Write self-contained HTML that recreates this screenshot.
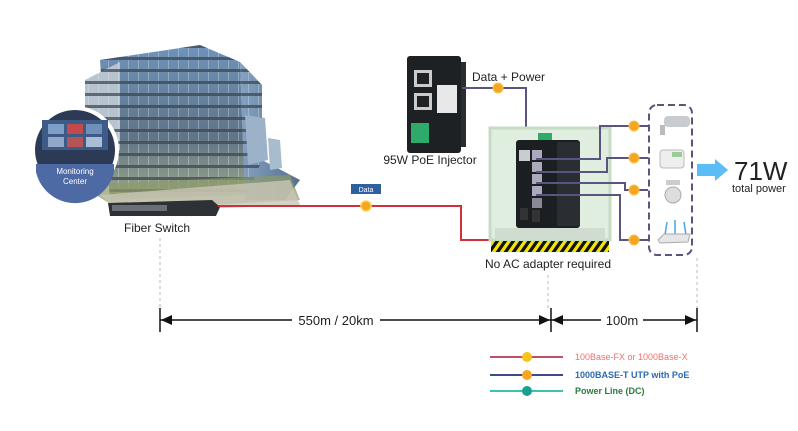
<!DOCTYPE html>
<html><head><meta charset="utf-8"><style>
html,body{margin:0;padding:0;background:#fff;}
svg{display:block;font-family:"Liberation Sans",Arial,sans-serif;}
</style></head><body>
<svg width="798" height="431" viewBox="0 0 798 431" xmlns="http://www.w3.org/2000/svg">
<defs>
<linearGradient id="bld" x1="0" y1="0" x2="0" y2="1">
<stop offset="0" stop-color="#6f93bb"/><stop offset="0.6" stop-color="#5f7487"/><stop offset="1" stop-color="#a0aa88"/>
</linearGradient>
<linearGradient id="bld2" x1="0" y1="0" x2="1" y2="0">
<stop offset="0" stop-color="#86a2c2"/><stop offset="1" stop-color="#55708c"/>
</linearGradient>
<pattern id="haz" width="8" height="12" patternUnits="userSpaceOnUse" patternTransform="skewX(-35)">
<rect width="8" height="12" fill="#f5e400"/><rect width="4" height="12" fill="#111"/>
</pattern>
<pattern id="win" width="10" height="12" patternUnits="userSpaceOnUse">
<rect x="0" y="9" width="10" height="3" fill="#3a434c" opacity="0.7"/><rect x="8" y="0" width="1" height="9" fill="#dde6ee" opacity="0.35"/>
</pattern>
</defs>

<polygon points="100,60 200,45 240,62 245,195 110,200" fill="url(#bld)"/>
<polygon points="100,60 200,45 240,62 245,195 110,200" fill="url(#win)"/>
<polygon points="240,62 262,85 262,160 300,180 285,200 245,200" fill="url(#bld2)"/>
<polygon points="240,62 262,85 262,160 245,200" fill="url(#win)"/>
<polygon points="245,115 265,118 268,160 248,165" fill="#9bb2c8"/>
<polygon points="268,138 280,140 282,168 270,170" fill="#a7bccd"/>
<polygon points="85,80 120,62 120,150 85,160" fill="#b7c4d0"/>
<polygon points="85,80 120,62 120,150 85,160" fill="url(#win)"/>
<polygon points="80,185 290,175 300,200 120,210" fill="#8b9a6a" opacity="0.7"/>
<polygon points="100,195 290,180 300,205 120,212" fill="#c9c5b6" opacity="0.8"/>

<circle cx="75" cy="150" r="44" fill="#fff"/>
<circle cx="75" cy="150" r="40" fill="#2c3a55"/>
<rect x="42" y="120" width="66" height="30" fill="#3d5b86"/>
<rect x="48" y="124" width="16" height="10" fill="#7ea0c8"/><rect x="67" y="124" width="16" height="10" fill="#c24a4a"/><rect x="86" y="124" width="16" height="10" fill="#6f90b8"/>
<rect x="48" y="137" width="16" height="10" fill="#91a8c9"/><rect x="67" y="137" width="16" height="10" fill="#b35555"/><rect x="86" y="137" width="16" height="10" fill="#aabdd6"/>
<path d="M36,172 A40,40 0 0 0 114,172 L114,164 L36,164 Z" fill="#4e6aa5"/>
<text x="75" y="174" font-size="8" fill="#fff" text-anchor="middle">Monitoring</text>
<text x="75" y="184" font-size="8" fill="#fff" text-anchor="middle">Center</text>

<polygon points="108,203 212,200 220,207 216,216 110,216" fill="#2e3236"/>
<rect x="112" y="205" width="55" height="6" fill="#6a7076"/>

<text x="157" y="232" font-size="12" fill="#222" text-anchor="middle">Fiber Switch</text>

<polyline points="218,206 461,206 461,240 536,240" fill="none" stroke="#d0303c" stroke-width="2"/>
<line x1="527" y1="212" x2="527" y2="240" stroke="#d0303c" stroke-width="2"/>
<line x1="536" y1="212" x2="536" y2="240" stroke="#d0303c" stroke-width="2"/>
<rect x="351" y="184" width="30" height="10" fill="#2f5f9d"/>
<text x="366" y="192" font-size="7" fill="#fff" text-anchor="middle">Data</text>
<circle cx="366" cy="206" r="5" fill="#f5a623" stroke="#ffd24d" stroke-width="1.5"/>

<rect x="407" y="56" width="54" height="97" rx="3" fill="#1e2124"/>
<rect x="461" y="62" width="5" height="85" fill="#2a2e32"/>
<rect x="414" y="70" width="18" height="17" fill="#c9cdd0"/><rect x="417" y="73" width="12" height="11" fill="#222"/>
<rect x="414" y="93" width="18" height="17" fill="#c9cdd0"/><rect x="417" y="96" width="12" height="11" fill="#222"/>
<rect x="437" y="85" width="20" height="28" fill="#e8e8e8"/>
<rect x="411" y="123" width="18" height="20" fill="#2eaa6a"/>
<text x="430" y="164" font-size="12" fill="#222" text-anchor="middle">95W PoE Injector</text>
<text x="472" y="81" font-size="12" fill="#222">Data + Power</text>
<polyline points="462,88 526,88 526,158" fill="none" stroke="#5a5480" stroke-width="2"/>
<circle cx="498" cy="88" r="5" fill="#f5a623" stroke="#ffc04d" stroke-width="1"/>

<rect x="490" y="128" width="120" height="112" fill="#dfeede" stroke="#c7dcc5" stroke-width="3"/>
<rect x="495" y="228" width="110" height="12" fill="#cfdccf"/>
<rect x="491" y="241" width="118" height="11" fill="url(#haz)"/>
<text x="548" y="268" font-size="12" fill="#222" text-anchor="middle">No AC adapter required</text>

<rect x="538" y="133" width="14" height="8" fill="#2eaa6a"/>
<rect x="516" y="140" width="64" height="88" rx="3" fill="#1c1f22"/>
<rect x="557" y="142" width="23" height="84" fill="#2a2e32"/>
<rect x="519" y="150" width="11" height="11" fill="#c9cdd0"/>
<rect x="532" y="150" width="10" height="10" fill="#aab"/><rect x="532" y="162" width="10" height="10" fill="#aab"/>
<rect x="532" y="174" width="10" height="10" fill="#aab"/><rect x="532" y="186" width="10" height="10" fill="#aab"/>
<rect x="532" y="198" width="10" height="10" fill="#889"/>
<rect x="520" y="208" width="8" height="12" fill="#333"/><rect x="532" y="210" width="8" height="12" fill="#333"/>

<g fill="none" stroke="#5a5480" stroke-width="2">
<polyline points="536,159 600,159 600,126 648,126"/>
<polyline points="536,172 607,172 607,158 648,158"/>
<polyline points="536,183 625,183 625,190 648,190"/>
<polyline points="536,195 620,195 620,240 648,240"/>
</g>
<g fill="#f5a623" stroke="#ffc04d" stroke-width="1">
<circle cx="634" cy="126" r="5"/><circle cx="634" cy="158" r="5"/><circle cx="634" cy="190" r="5"/><circle cx="634" cy="240" r="5"/>
</g>

<rect x="649" y="105" width="43" height="150" rx="8" fill="#fff" stroke="#5a5480" stroke-width="2" stroke-dasharray="7,4"/>
<rect x="664" y="116" width="26" height="11" rx="4" fill="#c8ccd0"/><rect x="660" y="125" width="5" height="10" fill="#bbb"/>
<rect x="660" y="150" width="24" height="18" rx="3" fill="#eeeeee" stroke="#bbb"/>
<rect x="672" y="152" width="10" height="5" fill="#9c9"/>
<rect x="666" y="180" width="14" height="5" fill="#ccc"/><circle cx="673" cy="195" r="8" fill="#ddd" stroke="#aaa"/>
<line x1="667" y1="222" x2="665" y2="235" stroke="#4aa3e0" stroke-width="1.5"/>
<line x1="675" y1="220" x2="675" y2="235" stroke="#4aa3e0" stroke-width="1.5"/>
<line x1="684" y1="222" x2="686" y2="235" stroke="#4aa3e0" stroke-width="1.5"/>
<polygon points="658,240 664,234 690,234 688,242 660,243" fill="#e4e6e8" stroke="#aaa"/>

<polygon points="697,164 715,164 715,159 728,170 715,181 715,176 697,176" fill="#5bbdf5"/>
<text x="734" y="180" font-size="26" fill="#222">71W</text>
<text x="732" y="192" font-size="11" fill="#222">total power</text>

<g stroke="#bbb" stroke-width="1" stroke-dasharray="3,3">
<line x1="160" y1="238" x2="160" y2="310"/>
<line x1="548" y1="275" x2="548" y2="310"/>
<line x1="697" y1="258" x2="697" y2="310"/>
</g>
<g stroke="#111" stroke-width="1.5">
<line x1="160" y1="308" x2="160" y2="332"/><line x1="551" y1="308" x2="551" y2="332"/><line x1="697" y1="308" x2="697" y2="332"/>
<line x1="160" y1="320" x2="292" y2="320"/><line x1="380" y1="320" x2="551" y2="320"/>
<line x1="551" y1="320" x2="601" y2="320"/><line x1="643" y1="320" x2="697" y2="320"/>
</g>
<g fill="#111">
<polygon points="161,320 172,315 172,325"/><polygon points="550,320 539,315 539,325"/>
<polygon points="552,320 563,315 563,325"/><polygon points="696,320 685,315 685,325"/>
</g>
<text x="336" y="325" font-size="13" fill="#222" text-anchor="middle">550m / 20km</text>
<text x="622" y="325" font-size="13" fill="#222" text-anchor="middle">100m</text>

<line x1="490" y1="357" x2="563" y2="357" stroke="#c05068" stroke-width="2"/>
<circle cx="527" cy="357" r="5" fill="#f5c518"/>
<text x="575" y="360" font-size="9" fill="#f07070">100Base-FX or 1000Base-X</text>
<line x1="490" y1="375" x2="563" y2="375" stroke="#3a4a8a" stroke-width="2"/>
<circle cx="527" cy="375" r="5" fill="#f5a623"/>
<text x="575" y="378" font-size="9" fill="#2a6ab0" font-weight="bold">1000BASE-T UTP  with PoE</text>
<line x1="490" y1="391" x2="563" y2="391" stroke="#40c0b0" stroke-width="2"/>
<circle cx="527" cy="391" r="5" fill="#1aa090"/>
<text x="575" y="394" font-size="9" fill="#2a7a3a" font-weight="bold">Power Line (DC)</text>
</svg>
</body></html>
